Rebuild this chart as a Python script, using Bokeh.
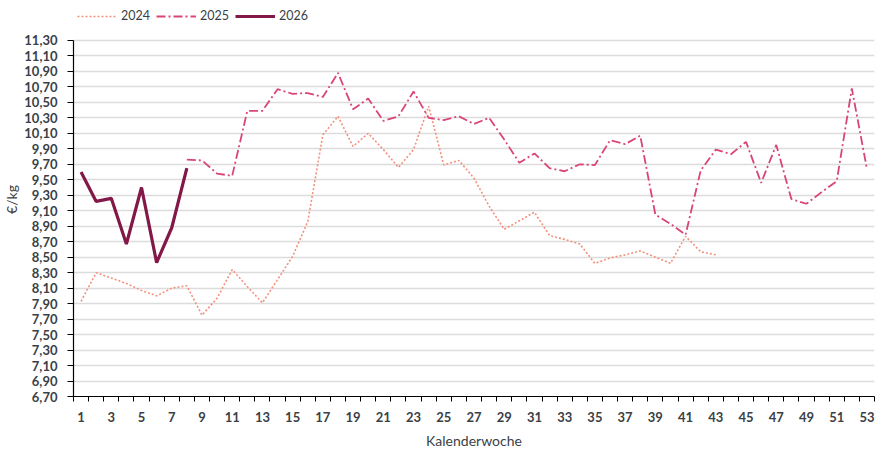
from bokeh.plotting import figure
from bokeh.models import FixedTicker, Legend, LegendItem
from bokeh.embed import file_html
from bokeh.resources import INLINE

weeks_2024 = list(range(1, 44))
values_2024 = [7.93, 8.30, 8.23, 8.16, 8.07, 8.00, 8.10, 8.13, 7.75, 7.97,
               8.34, 8.12, 7.91, 8.21, 8.51, 8.96, 10.08, 10.32, 9.93, 10.10,
               9.89, 9.66, 9.89, 10.45, 9.69, 9.75, 9.52, 9.16, 8.86, 8.97,
               9.08, 8.78, 8.73, 8.67, 8.42, 8.49, 8.53, 8.58, 8.50, 8.42,
               8.77, 8.57, 8.53]

weeks_2025 = list(range(8, 54))
values_2025 = [9.76, 9.75, 9.58, 9.55, 10.39, 10.39, 10.67, 10.61, 10.62, 10.57,
               10.88, 10.41, 10.55, 10.26, 10.32, 10.64, 10.30, 10.27, 10.32, 10.22,
               10.30, 10.02, 9.72, 9.84, 9.65, 9.61, 9.70, 9.69, 10.01, 9.96,
               10.07, 9.05, 8.93, 8.79, 9.62, 9.89, 9.83, 9.99, 9.46, 9.95,
               9.25, 9.19, 9.34, 9.48, 10.68, 9.64]

weeks_2026 = list(range(1, 9))
values_2026 = [9.60, 9.22, 9.26, 8.67, 9.40, 8.43, 8.88, 9.65]

x_ticks = list(range(1, 54, 2))
y_ticks = [6.7, 6.9, 7.1, 7.3, 7.5, 7.7, 7.9, 8.1, 8.3, 8.5, 8.7, 8.9, 9.1,
           9.3, 9.5, 9.7, 9.9, 10.1, 10.3, 10.5, 10.7, 10.9, 11.1, 11.3]
y_tick_labels = ["6,70", "6,90", "7,10", "7,30", "7,50", "7,70", "7,90", "8,10",
                 "8,30", "8,50", "8,70", "8,90", "9,10", "9,30", "9,50", "9,70",
                 "9,90", "10,10", "10,30", "10,50", "10,70", "10,90", "11,10", "11,30"]

FONT = "Lato"
TXT = "#3a3f47"

# frame spans the legend area too; the axis itself is bounded to 6.70 .. 11.30
p = figure(width=877, height=451, output_backend="svg", toolbar_location=None,
           x_range=(0.5, 53.5), y_range=(6.7, 11.79),
           min_border_left=72, min_border_right=3, min_border_top=2, min_border_bottom=54)
p.outline_line_color = None
p.background_fill_color = "white"
p.border_fill_color = "white"

p.xgrid.grid_line_color = None
p.ygrid.grid_line_color = "#dcdcdc"
p.ygrid.grid_line_width = 1.5

p.xaxis.ticker = FixedTicker(ticks=x_ticks, minor_ticks=[w + 0.5 for w in range(0, 54)])
p.xaxis.major_tick_out = 0
p.xaxis.major_tick_in = 0
p.xaxis.minor_tick_out = 5
p.xaxis.minor_tick_in = 0
p.xaxis.minor_tick_line_color = "black"
p.xaxis.axis_line_color = "black"
p.xaxis.axis_line_width = 1.2
p.xaxis.major_label_standoff = 10
p.xaxis.axis_label = "Kalenderwoche"
p.xaxis.axis_label_standoff = 7

p.yaxis.ticker = FixedTicker(ticks=y_ticks, minor_ticks=[])
p.yaxis.bounds = (6.7, 11.3)
p.yaxis.major_label_overrides = {t: l for t, l in zip(y_ticks, y_tick_labels)}
p.yaxis.major_tick_out = 6
p.yaxis.major_tick_in = 0
p.yaxis.major_tick_line_color = "black"
p.yaxis.axis_line_color = "black"
p.yaxis.axis_line_width = 1.2
p.yaxis.major_label_standoff = 10
p.yaxis.axis_label = "€/kg"
p.yaxis.axis_label_standoff = 1

for ax in (p.xaxis, p.yaxis):
    ax.major_label_text_font = FONT
    ax.major_label_text_font_size = "13px"
    ax.major_label_text_color = TXT
    ax.major_label_text_font_style = "bold"
    ax.axis_label_text_font = FONT
    ax.axis_label_text_font_size = "14px"
    ax.axis_label_text_font_style = "normal"
    ax.axis_label_text_color = TXT

r24 = p.line(weeks_2024, values_2024, line_color="#f4907c", line_width=1.6, line_dash="2 2")
r25 = p.line(weeks_2025, values_2025, line_color="#d9447a", line_width=1.8, line_dash="9 3 2 3")
r26 = p.line(weeks_2026, values_2026, line_color="#821847", line_width=3.2)

legend = Legend(items=[LegendItem(label="2024", renderers=[r24]),
                       LegendItem(label="2025", renderers=[r25]),
                       LegendItem(label="2026", renderers=[r26])],
                orientation="horizontal", location=(4, 373))
legend.label_text_font = FONT
legend.label_text_font_size = "12.5px"
legend.label_text_color = TXT
legend.glyph_width = 40
legend.glyph_height = 14
legend.label_standoff = 4
legend.spacing = 6
legend.padding = 4
legend.margin = 0
legend.border_line_color = None
legend.background_fill_alpha = 0
p.add_layout(legend, "center")

open("out.html", "w").write(file_html(p, INLINE))
